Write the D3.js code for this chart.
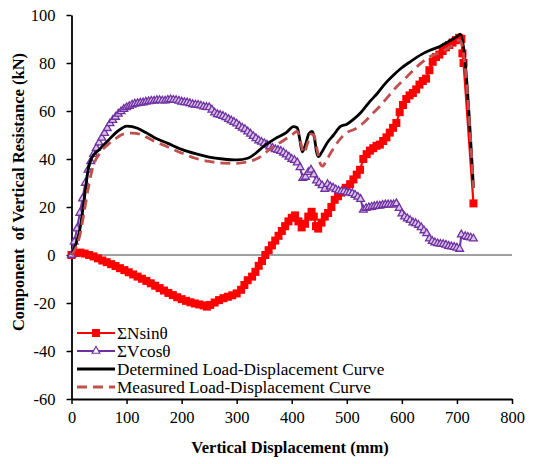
<!DOCTYPE html>
<html>
<head>
<meta charset="utf-8">
<script src="https://cdn.jsdelivr.net/npm/d3@7"></script>
</head>
<body style="margin:0">
<svg id="chart" width="539" height="464"></svg>
<script>
// ---------------- DATA ----------------
const xTicks = [0, 100, 200, 300, 400, 500, 600, 700, 800];
const yTicks = [-60, -40, -20, 0, 20, 40, 60, 80, 100];

const seriesNames = ["\u03A3Nsin\u03B8", "\u03A3Vcos\u03B8", "Determined Load-Displacement Curve", "Measured Load-Displacement Curve"];

// ΣNsinθ
const nsinX = [0,8,16,24,32,40,48,56,64,72,80,88,96,104,112,120,128,136,144,152,160,168,176,184,192,200,208,216,224,232,240,246,252,260,268,276,284,292,300,308,314,320,328,334,340,346,352,358,364,370,376,382,388,394,400,406,412,418,424,430,436,440,444,448,454,460,466,472,478,484,490,498,506,512,518,524,530,536,542,548,554,560,566,572,578,584,590,596,602,608,614,620,626,632,638,644,650,656,662,668,674,680,686,692,698,704,708,710,712,730];
const nsinY = [0,0.8,1.0,0.6,0,-0.6,-1.4,-2.3,-3.0,-3.8,-4.6,-5.5,-6.3,-7.2,-8.1,-9.0,-9.9,-10.8,-11.8,-12.8,-13.8,-14.8,-15.8,-16.7,-17.6,-18.4,-19.1,-19.7,-20.2,-20.6,-21.0,-21.5,-20.8,-19.8,-18.8,-18.0,-17.4,-16.8,-16.0,-14.5,-12.5,-10.5,-9.0,-7.0,-4.5,-2.5,0,2,4,6,8,10,12,14,15.5,16.5,14,11.5,13,16,18,16,12,11,13.5,16,17.5,20,23,24.5,26,28,29.5,31.5,33.5,35.5,40,42,43.5,44.5,45.5,46,47.5,49,51,53,55,59.5,62.5,65,66.5,67.5,69,71,72.5,73.5,77,80.5,82.5,83.5,85,86.5,87.5,88.5,89.5,90.5,90,84,80,21.5];

// ΣVcosθ
const vcosX = [0,5,10,15,20,25,30,35,40,45,50,55,60,65,70,75,80,85,90,95,100,105,110,115,120,125,130,135,140,145,150,155,160,165,170,175,180,185,190,195,200,205,210,215,220,225,230,235,240,245,250,255,260,265,270,275,280,285,290,295,300,305,310,315,320,325,330,335,340,345,350,355,360,365,370,375,380,385,390,395,400,405,410,415,420,425,430,435,440,445,450,455,460,465,470,475,480,485,490,495,500,505,510,515,520,525,530,535,540,545,550,555,560,565,570,575,580,585,590,595,600,605,610,615,620,625,630,635,640,645,650,655,660,665,670,675,680,685,690,695,700,705,708,715,720,725,730];
const vcosY = [0,5.5,11,17.5,23.5,30,35.5,39,42,44.5,46.8,48.8,50.8,52.8,54.8,56.2,57.5,58.8,59.8,60.8,61.5,62,62.6,63,63.2,63.4,63.5,63.8,64,64.2,64.2,64.5,64.5,64.3,64.3,64.6,64.8,64.6,64.5,64.2,63.8,63.6,63.5,63.2,62.8,62.6,62.5,62.2,61.8,61.6,61.5,60.5,59.3,58.6,58.3,57.9,57.3,56.6,56,55.4,54.7,53.7,53,52.4,51.4,50.5,49.5,48.6,47.7,47.1,46.5,45.9,45.2,44.6,44,43.7,43.3,42.6,41.8,40.9,40,39.5,38.5,36.5,32,32.5,34.5,35.5,33.5,31,30,29,27.5,29.5,28.5,28,27.3,26.8,26.5,26.5,26,26,25.7,25,24.2,23.3,18.8,19.5,19.8,20,20.3,20.5,20.5,20.8,21,21,21,21,21.5,19.5,17.2,16,15.2,14.5,13.5,13.2,12.5,11.5,10.2,9,6.8,5.8,5.2,4.8,4.6,4.5,4.2,3.7,3.5,3.3,3,2.5,8.5,7.8,7.5,7.2,6.8];

// Determined load-displacement curve
const detX = [0,7,15,23,31,36.5,50,66,83,101,120,135,150,175,200,225,250,275,300,320,335,350,370,390,403,410,414,419,425,431,437,441,445,448,455,465,476,488,500,512,526,542,556,570,585,597,615,635,651,668,685,700,706,730];
const detY = [0,4,10.5,23,36.5,40.3,43.8,47.6,51.4,53.7,52.8,51,49,46.5,44,42.2,40.8,40,39.6,40.3,42.5,45.5,48.5,51,53.5,53,49,43,46,50.5,51.5,49,43,41,43,47,50,53.5,54.5,56.5,59.5,64,67.5,71.5,75,77.5,80.5,83.5,85.3,86.8,89,91,92,28];

// Measured load-displacement curve
const measX = [0,8,15,23,31,38,50,66,80,95,110,125,145,170,200,225,250,275,300,320,340,360,380,400,410,416,422,428,435,440,446,452,456,462,472,485,500,515,530,545,560,575,590,610,630,650,670,690,704,708,730];
const measY = [0,3,8,18,28.5,36,42,46,48.5,50.5,50.8,50.3,48,45.5,42.5,40.3,39,38.3,38.2,38.8,40.5,44,47,50,51.5,47,42.5,46,50.5,50,44,38,37,39,43,47.5,51,52.5,55,58.5,62,66,70,74.5,79,82.5,84.5,87,89.5,88.5,28];

// ---------------- CHART ----------------
const svg = d3.select("#chart");
const FONT = "Liberation Serif";

const x = d3.scaleLinear().domain([0, 800]).range([71.5, 512]);
const y = d3.scaleLinear().domain([-60, 100]).range([399, 15]);

const colors = { nsin: "#FF0000", vcos: "#7030A0", det: "#000000", meas: "#C0504D" };

function styleText(sel, size, bold) {
  sel.attr("font-family", FONT)
     .style("font-family", `"${FONT}"`)
     .style("font-size", size + "px")
     .attr("fill", "#000");
  if (bold) sel.style("font-weight", "bold");
  return sel;
}

// zero line
svg.append("line")
  .attr("x1", x(0)).attr("x2", x(800))
  .attr("y1", y(0)).attr("y2", y(0))
  .attr("stroke", "#808080").attr("stroke-width", 1.5);

// axes
const yAxis = d3.axisLeft(y).tickValues(yTicks).tickSize(5).tickSizeOuter(0).tickPadding(11).tickFormat(d => String(d));
const xAxis = d3.axisBottom(x).tickValues(xTicks).tickSize(5).tickSizeOuter(0).tickPadding(7).tickFormat(d => String(d));

const gy = svg.append("g").attr("transform", `translate(${x(0)},0)`).call(yAxis);
const gx = svg.append("g").attr("transform", `translate(0,${y(-60)})`).call(xAxis);
[gx, gy].forEach(g => {
  g.attr("font-family", FONT).attr("font-size", 16.5);
  g.select(".domain").attr("stroke", "#000").attr("stroke-width", 1.8);
  g.selectAll(".tick line").attr("stroke", "#000").attr("stroke-width", 1.5);
  styleText(g.selectAll(".tick text"), 16.5, false);
});

const line = d3.line().x(d => x(d[0])).y(d => y(d[1]));
const smooth = d3.line().x(d => x(d[0])).y(d => y(d[1])).curve(d3.curveMonotoneX);
const zip = (a, b) => a.map((v, i) => [v, b[i]]);

const nsin = zip(nsinX, nsinY);
const vcos = zip(vcosX, vcosY);
const det = zip(detX, detY);
const meas = zip(measX, measY);

// ΣNsinθ
svg.append("path").datum(nsin).attr("d", line)
  .attr("fill", "none").attr("stroke", colors.nsin).attr("stroke-width", 2.2);
svg.append("g").selectAll("rect").data(nsin).join("rect")
  .attr("x", d => x(d[0]) - 4).attr("y", d => y(d[1]) - 4)
  .attr("width", 8).attr("height", 8).attr("fill", colors.nsin);

// ΣVcosθ
svg.append("path").datum(vcos).attr("d", line)
  .attr("fill", "none").attr("stroke", colors.vcos).attr("stroke-width", 2);
const tri = d3.symbol().type(d3.symbolTriangle).size(26);
svg.append("g").selectAll("path").data(vcos).join("path")
  .attr("d", tri)
  .attr("transform", d => `translate(${x(d[0])},${y(d[1])})`)
  .attr("fill", "#d8c6ea").attr("stroke", colors.vcos).attr("stroke-width", 1.3);

// Determined
svg.append("path").datum(det).attr("d", smooth)
  .attr("fill", "none").attr("stroke", colors.det).attr("stroke-width", 2.8)
  .attr("stroke-linejoin", "round");

// Measured
svg.append("path").datum(meas).attr("d", smooth)
  .attr("fill", "none").attr("stroke", colors.meas).attr("stroke-width", 2.8)
  .attr("stroke-dasharray", "10,6");

// axis titles
styleText(svg.append("text")
  .attr("x", 290).attr("y", 453)
  .attr("text-anchor", "middle"), 16.5, true)
  .text("Vertical Displacement (mm)");

styleText(svg.append("text")
  .attr("transform", "translate(24,192) rotate(-90)")
  .attr("text-anchor", "middle")
  .attr("xml:space", "preserve"), 16.5, true)
  .style("white-space", "pre")
  .text("Component  of Vertical Resistance (kN)");

// legend
const legY = [333, 351, 369, 387];
const lg = svg.append("g");
seriesNames.forEach((name, i) => {
  const yy = legY[i];
  const col = [colors.nsin, colors.vcos, colors.det, colors.meas][i];
  const ln = lg.append("line").attr("x1", 77).attr("x2", 115).attr("y1", yy).attr("y2", yy)
    .attr("stroke", col).attr("stroke-width", i >= 2 ? 2.8 : 2);
  if (i === 3) ln.attr("stroke-dasharray", "10,6");
  if (i === 0) lg.append("rect").attr("x", 96 - 4).attr("y", yy - 4).attr("width", 8).attr("height", 8).attr("fill", col);
  if (i === 1) lg.append("path").attr("d", tri).attr("transform", `translate(96,${yy})`)
    .attr("fill", "#ffffff").attr("stroke", col).attr("stroke-width", 1.2);
  styleText(lg.append("text").attr("x", 117).attr("y", yy).attr("dy", "0.35em"), 17.2, false)
    .text(name);
});
</script>
</body>
</html>
